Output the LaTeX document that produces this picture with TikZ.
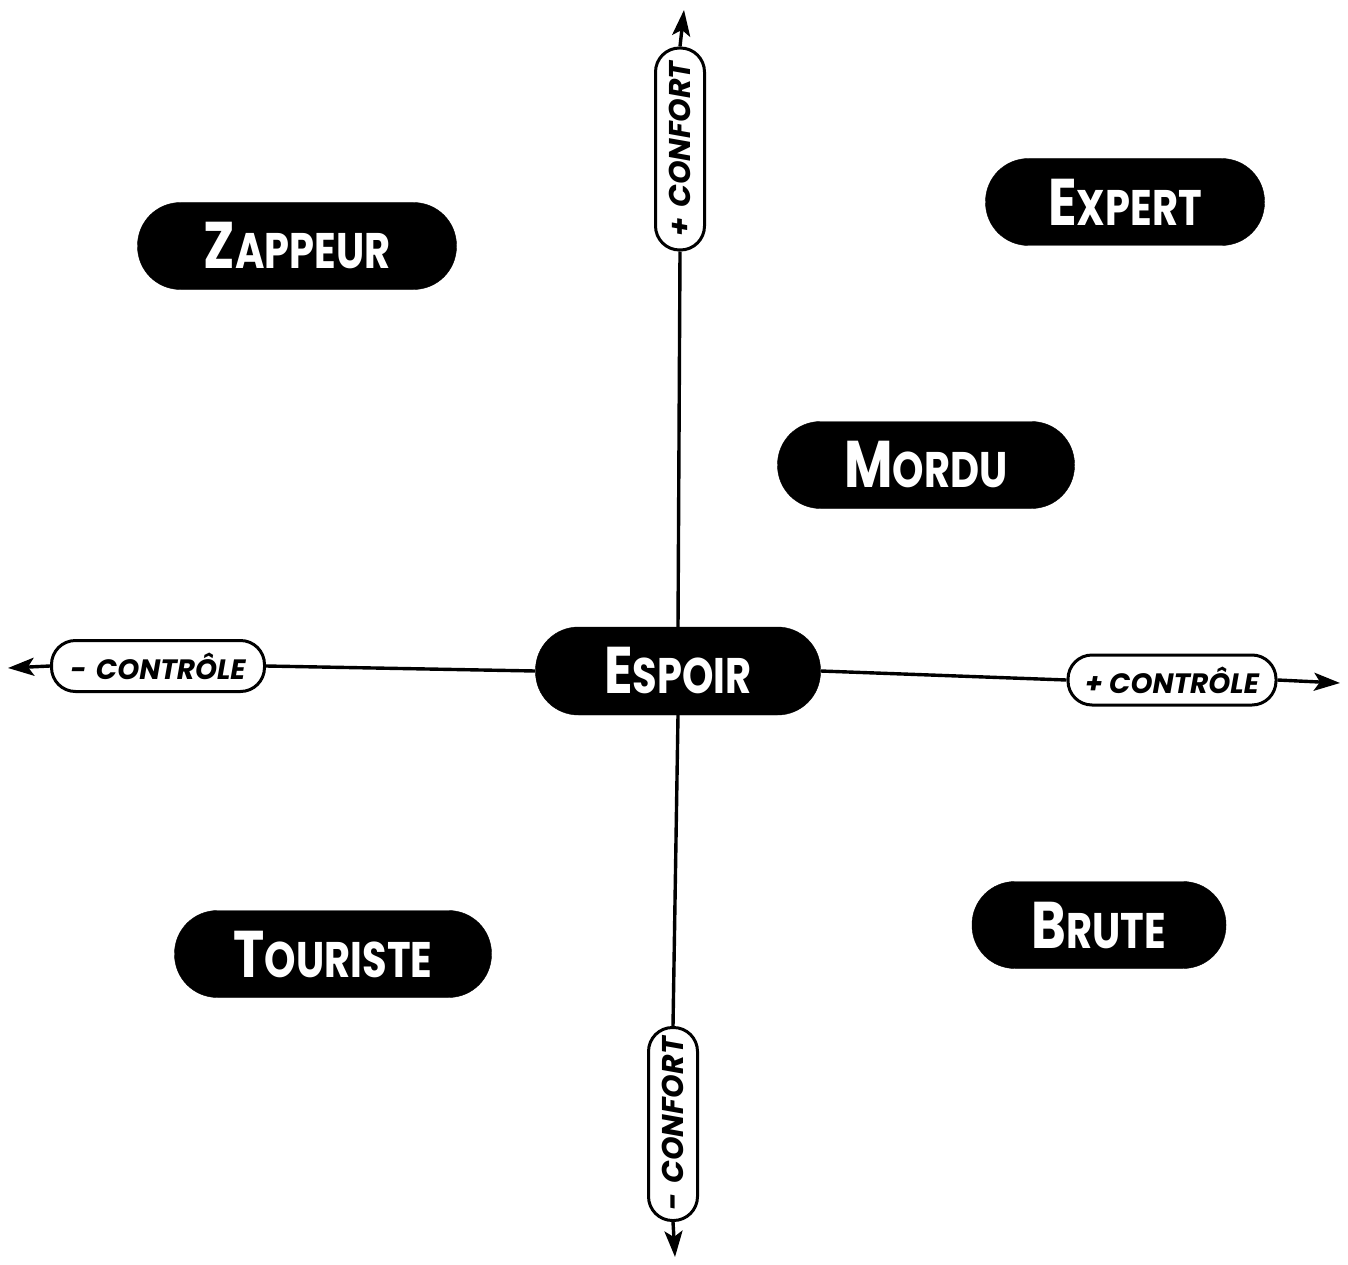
\documentclass[tikz,border=0pt]{standalone}
\usepackage{fontspec}
\usepackage{graphicx}
\setmainfont{Poppins}
\usetikzlibrary{arrows.meta}
\newcommand\capsmall[2]{\scalebox{0.8}[1]{\fontsize{66}{66}\selectfont\bfseries #1\fontsize{50}{50}\selectfont #2}}
\newcommand\axlab[1]{{\fontsize{28}{28}\selectfont\bfseries\itshape #1}}
\newcommand\axlabv[1]{{\fontsize{30}{30}\selectfont\bfseries\itshape #1}}
\begin{document}
\begin{tikzpicture}[x=1pt,y=-1pt,
  pill/.style={fill=black,text=white,draw=black,rounded corners=43pt,minimum height=87pt,inner sep=0pt},
  axpill/.style={fill=white,draw=black,line width=3pt,rounded corners=24pt,minimum height=49pt,inner sep=0pt},
  axis/.style={line width=3.4pt},
  axarrow/.style={axis,-{Stealth[length=26pt,width=18pt,inset=6pt]}}]
\useasboundingbox (0,0) rectangle (1348,1265);
% tips
\coordinate (ctop) at (684,10);
\coordinate (cbot) at (675,1257);
\coordinate (cleft) at (8,668);
\coordinate (cright) at (1340,683);
% axis labels
\node[axpill,rotate=90,minimum width=202pt] (pconf) at (680,149) {\axlabv{+\,\,CONFORT}};
\node[axpill,rotate=90,minimum width=193pt] (mconf) at (673,1124) {\axlabv{-\,\,CONFORT}};
\node[axpill,minimum width=213pt,minimum height=51pt] (mctrl) at (158,666) {\axlab{-\,\,CONTRÔLE}};
\node[axpill,minimum width=208pt,minimum height=50pt] (pctrl) at (1172,680) {\axlab{+ CONTRÔLE}};
% main nodes
\node[pill,minimum width=285pt,minimum height=88pt] (espoir) at (678,671) {\capsmall{E}{SPOIR}};
\node[pill,minimum width=319pt] (zappeur) at (297,246) {\capsmall{Z}{APPEUR}};
\node[pill,minimum width=279pt] (expert) at (1125,202) {\capsmall{E}{XPERT}};
\node[pill,minimum width=297pt] (mordu) at (926,465) {\capsmall{M}{ORDU}};
\node[pill,minimum width=317pt] (touriste) at (333,954) {\capsmall{T}{OURISTE}};
\node[pill,minimum width=254pt] (brute) at (1099,925) {\capsmall{B}{RUTE}};
% axes
\draw[axarrow] (pconf.east) -- (ctop);
\draw[axis] (pconf.west) -- (espoir.north);
\draw[axis] (espoir.south) -- (mconf.east);
\draw[axarrow] (mconf.west) -- (cbot);
\draw[axarrow] (mctrl.west) -- (cleft);
\draw[axis] (mctrl.east) -- (espoir.west);
\draw[axis] (espoir.east) -- (pctrl.west);
\draw[axarrow] (pctrl.east) -- (cright);
\end{tikzpicture}
\end{document}
